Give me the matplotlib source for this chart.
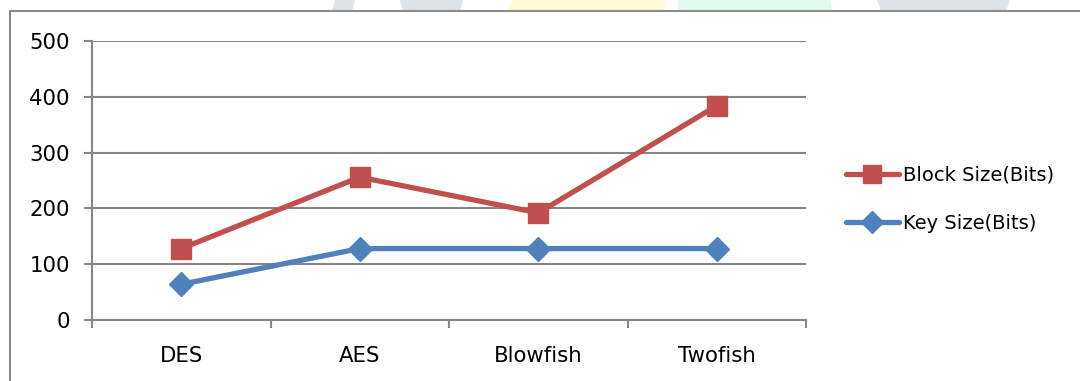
import matplotlib
matplotlib.use("Agg")
import matplotlib.pyplot as plt
from matplotlib.patches import Rectangle, Polygon
from matplotlib.lines import Line2D

categories = ["DES", "AES", "Blowfish", "Twofish"]
block_size = [128, 256, 192, 384]
key_size = [64, 128, 128, 128]
y_ticks = [0, 100, 200, 300, 400, 500]

RED = "#C0504D"
BLUE = "#4F81BD"
GRID = "#868686"

W, H = 1080, 381
fig = plt.figure(figsize=(W / 100, H / 100), dpi=100)
plt.rcParams['font.family'] = ['DejaVu Sans']

def fx(px):
    return px / W

def fy(py):
    return 1 - py / H

# faint watermark shapes in top strip
wm = [("#dde3e6", [(335, 0), (355, 0), (352, 11), (332, 11)]),
      ("#dde3e6", [(400, 0), (463, 0), (460, 11), (403, 11)]),
      ("#fffbd8", [(512, 0), (665, 0), (665, 11), (507, 11)]),
      ("#e0fbeb", [(678, 0), (830, 0), (832, 11), (678, 11)]),
      ("#dde3e6", [(877, 0), (1010, 0), (1006, 11), (881, 11)])]
for c, pts in wm:
    fig.patches.append(Polygon([(fx(x), fy(y)) for x, y in pts], closed=True,
                               transform=fig.transFigure, facecolor=c,
                               edgecolor="none", zorder=-2))

# chart border
fig.patches.append(Rectangle((fx(10), fy(400)), fx(1100) - fx(10), fy(11) - fy(400),
                             transform=fig.transFigure, facecolor="white",
                             edgecolor="#8c8c8c", linewidth=1.5, zorder=-1))

ax = fig.add_axes([fx(92), fy(320), fx(806) - fx(92), fy(41) - fy(320)])
ax.set_zorder(5)
ax.set_facecolor("none")
x = list(range(len(categories)))
ax.plot(x, block_size, color=RED, linewidth=3.8, marker="s", markersize=14,
        markerfacecolor=RED, markeredgecolor=RED, solid_capstyle="round",
        label="Block Size(Bits)", zorder=3)
ax.plot(x, key_size, color=BLUE, linewidth=3.8, marker="D", markersize=12.5,
        markerfacecolor=BLUE, markeredgecolor=BLUE, solid_capstyle="round",
        label="Key Size(Bits)", zorder=3)

ax.set_xlim(-0.5, len(categories) - 0.5)
ax.set_ylim(0, 500)
ax.set_yticks(y_ticks)
ax.set_yticklabels([str(v) for v in y_ticks])
ax.set_xticks(x)
ax.set_xticklabels(categories)
ax.set_xticks([i - 0.5 for i in range(len(categories) + 1)], minor=True)
ax.tick_params(axis="x", which="major", length=0, pad=19, labelsize=15.3, colors="black")
ax.tick_params(axis="x", which="minor", length=6, width=1.5, color=GRID, direction="out")
ax.tick_params(axis="y", which="major", length=6, width=1.5, color=GRID, pad=10,
               labelsize=15.3, labelcolor="black")
ax.grid(axis="y", color=GRID, linewidth=1.5, zorder=1)
ax.set_axisbelow(True)
for s in ["top", "right"]:
    ax.spines[s].set_visible(False)
for s in ["left", "bottom"]:
    ax.spines[s].set_color(GRID)
    ax.spines[s].set_linewidth(1.5)

handles = [Line2D([], [], color=RED, linewidth=3.8, marker="s", markersize=12.5,
                  solid_capstyle="round"),
           Line2D([], [], color=BLUE, linewidth=3.8, marker="D", markersize=11.5,
                  solid_capstyle="round")]
leg = fig.legend(handles, ["Block Size(Bits)", "Key Size(Bits)"],
                 loc="center left", bbox_to_anchor=(fx(846), fy(199)),
                 frameon=False, fontsize=14, handlelength=2.7, handletextpad=0.25,
                 labelspacing=1.5, borderaxespad=0, borderpad=0)
leg.set_zorder(6)

fig.savefig("out.png", dpi=100)
